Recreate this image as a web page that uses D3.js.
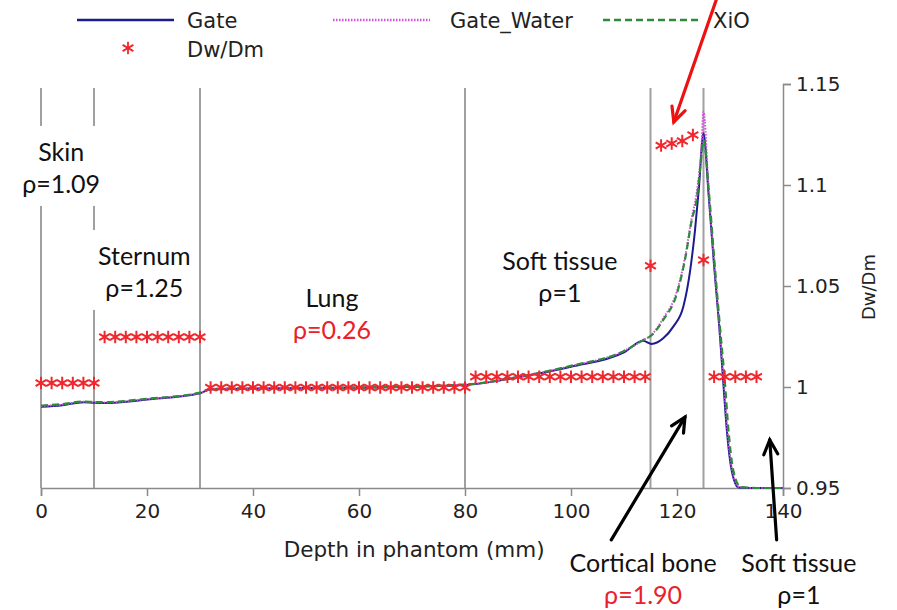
<!DOCTYPE html>
<html>
<head>
<meta charset="utf-8">
<script src="https://cdn.jsdelivr.net/npm/d3@7"></script>
<style>
  body { margin: 0; background: #fff; }
  svg { display: block; }
</style>
</head>
<body>
<div id="chart"></div>
<script>
// Depth (mm) and Dw/Dm values

// Gate (solid navy)
const gateDepth = [0, 4, 8, 10, 12, 20, 30, 32, 40, 60, 80, 90, 100, 110, 113.6, 115.2, 117.4, 119.3, 121.2, 122.5, 123.4, 124.1, 125, 126, 127, 128, 128.7, 129.4, 130.3, 131.6, 135, 140];
const gateDose  = [0.9902, 0.991, 0.9925, 0.9922, 0.9921, 0.9938, 0.9969, 0.9988, 0.9993, 0.9996, 1.001, 1.0048, 1.010, 1.0172, 1.0229, 1.0213, 1.0241, 1.0299, 1.0398, 1.058, 1.0777, 1.0975, 1.1256, 1.094, 1.060, 1.029, 1.0035, 0.9787, 0.9589, 0.9503, 0.9500, 0.9500];

// Gate_Water (magenta dotted)
const waterDepth = [0, 4, 8, 10, 12, 20, 30, 32, 40, 60, 80, 90, 100, 110, 113.6, 115.2, 117.4, 120, 121.5, 122.8, 123.7, 124.6, 125, 126, 127, 128, 128.8, 129.5, 130.4, 131.7, 135, 140];
const waterDose  = [0.9905, 0.9913, 0.9927, 0.9924, 0.9923, 0.994, 0.9971, 0.999, 0.9995, 0.9998, 1.0012, 1.005, 1.0104, 1.0178, 1.0232, 1.0258, 1.034, 1.0475, 1.064, 1.084, 1.096, 1.118, 1.1363, 1.096, 1.062, 1.030, 1.0035, 0.979, 0.959, 0.9505, 0.9500, 0.9500];

// XiO (green dashed)
const xioDepth = [0, 4, 8, 10, 12, 20, 30, 32, 40, 60, 80, 90, 100, 110, 113.6, 115.2, 117.4, 120, 121.5, 122.8, 123.7, 124.6, 125, 126.1, 127.1, 128.1, 129, 129.7, 130.6, 132, 135, 140];
const xioDose  = [0.9908, 0.9915, 0.9928, 0.9926, 0.9925, 0.9942, 0.9972, 0.999, 0.9995, 0.9998, 1.0012, 1.005, 1.0105, 1.0178, 1.0232, 1.0256, 1.0332, 1.0464, 1.0629, 1.0827, 1.0926, 1.114, 1.1223, 1.094, 1.061, 1.030, 1.0035, 0.979, 0.959, 0.9505, 0.9500, 0.9500];

// Dw/Dm ratio (red asterisks)
const dwDepth = [0, 2, 4, 6, 8, 10,
  12, 14, 16, 18, 20, 22, 24, 26, 28, 30,
  32, 34, 36, 38, 40, 42, 44, 46, 48, 50, 52, 54, 56, 58, 60, 62, 64, 66, 68, 70, 72, 74, 76, 78, 80,
  82, 84, 86, 88, 90, 92, 94, 96, 98, 100, 102, 104, 106, 108, 110, 112, 114,
  115, 117, 119, 121, 123, 125,
  127, 129, 131, 133, 135];
const dwRatio = [1.002, 1.002, 1.002, 1.002, 1.002, 1.002,
  1.0248, 1.0248, 1.0248, 1.0248, 1.0248, 1.0248, 1.0248, 1.0248, 1.0248, 1.0248,
  0.9998, 0.9998, 0.9998, 0.9998, 0.9998, 0.9998, 0.9998, 0.9998, 0.9998, 0.9998, 0.9998, 0.9998, 0.9998, 0.9998, 0.9998, 0.9998, 0.9998, 0.9998, 0.9998, 0.9998, 0.9998, 0.9998, 0.9998, 0.9998, 0.9998,
  1.0051, 1.0051, 1.0051, 1.0051, 1.0051, 1.0051, 1.0051, 1.0051, 1.0051, 1.0051, 1.0051, 1.0051, 1.0051, 1.0051, 1.0051, 1.0051, 1.0051,
  1.0600, 1.1195, 1.1206, 1.1218, 1.1248, 1.0629,
  1.0051, 1.0051, 1.0051, 1.0051, 1.0051];

// Tissue boundaries (mm)
const boundaries = [0, 10, 30, 80, 115, 125];

// Axis ticks
const xTicks = [0, 20, 40, 60, 80, 100, 120, 140];
const yTicks = [0.95, 1, 1.05, 1.1, 1.15];
const yTickLabels = ["0.95", "1", "1.05", "1.1", "1.15"];

// Region labels: [depth, value, name, density, density colour]
const regionLabels = [
  [3.8, 1.1119, "Skin", "ρ=1.09", "#111"],
  [19.5, 1.0604, "Sternum", "ρ=1.25", "#111"],
  [54.9, 1.0396, "Lung", "ρ=0.26", "#e8212a"],
  [97.9, 1.0579, "Soft tissue", "ρ=1", "#111"],
  [113.6, 0.9084, "Cortical bone", "ρ=1.90", "#e8212a"],
  [143.0, 0.9084, "Soft tissue", "ρ=1", "#111"]
];

// Arrows: [fromDepth, fromValue, toDepth, toValue, colour]
const arrows = [
  [127.4, 1.1916, 119.4, 1.1312, "#ee1111"],
  [107.6, 0.9243, 121.5, 0.9851, "#000"],
  [138.8, 0.9243, 137.5, 0.9738, "#000"]
];

const W = 897, H = 610;
const svg = d3.select("#chart").append("svg")
  .attr("width", W).attr("height", H)
  .style("font-family", "'DejaVu Sans', sans-serif");

const x = d3.scaleLinear().domain([0, 140]).range([41, 783]);
const y = d3.scaleLinear().domain([0.95, 1.15]).range([488, 84]);

const axisColor = "#8a8a8a";

// Vertical boundary lines
svg.append("g").selectAll("line")
  .data(boundaries)
  .join("line")
  .attr("x1", d => x(d)).attr("x2", d => x(d))
  .attr("y1", y(1.148)).attr("y2", y(0.95))
  .attr("stroke", "#a0a0a0")
  .attr("stroke-width", 2);

// Region labels with white boxes that break the boundary lines
const labelG = svg.append("g").style("font-family", "Lato, 'Open Sans', sans-serif").style("font-size", "25px");
for (let lab of regionLabels) {
  let g = labelG.append("g");
  let t1 = g.append("text")
    .attr("x", x(lab[0])).attr("y", y(lab[1]))
    .attr("text-anchor", "middle")
    .attr("fill", "#111")
    .text(lab[2]);
  let t2 = g.append("text")
    .attr("x", x(lab[0])).attr("y", y(lab[1]) + 32)
    .attr("text-anchor", "middle")
    .attr("fill", lab[4])
    .text(lab[3]);
  let b1 = t1.node().getBBox(), b2 = t2.node().getBBox();
  let x0 = Math.min(b1.x, b2.x) - 8, x1 = Math.max(b1.x + b1.width, b2.x + b2.width) + 8;
  let y0 = b1.y - 10, y1 = b2.y + b2.height + 8;
  g.insert("rect", "text")
    .attr("x", x0).attr("y", y0)
    .attr("width", x1 - x0).attr("height", y1 - y0)
    .attr("fill", "#fff");
}

// X axis
const xAxis = d3.axisBottom(x).tickValues(xTicks).tickSize(8).tickPadding(8);
const gx = svg.append("g").attr("transform", "translate(0," + y(0.95) + ")").call(xAxis);
gx.select(".domain").attr("stroke", axisColor).attr("stroke-width", 1.5);
gx.selectAll(".tick line").attr("stroke", axisColor).attr("stroke-width", 1.5);
gx.selectAll(".tick text").style("font-size", "20px").attr("fill", "#222")
  .style("font-family", "'DejaVu Sans', sans-serif");

// Y axis on the right
const yAxis = d3.axisRight(y).tickValues(yTicks).tickSize(8).tickPadding(5)
  .tickFormat((d, i) => yTickLabels[i]);
const gy = svg.append("g").attr("transform", "translate(" + x(140) + ",0)").call(yAxis);
gy.select(".domain").attr("stroke", axisColor).attr("stroke-width", 1.5);
gy.selectAll(".tick line").attr("stroke", axisColor).attr("stroke-width", 1.5);
gy.selectAll(".tick text").style("font-size", "20px").attr("fill", "#222")
  .style("font-family", "'DejaVu Sans', sans-serif");

// Axis titles
svg.append("text")
  .attr("x", x(70.4)).attr("y", 557)
  .attr("text-anchor", "middle")
  .style("font-size", "21.5px").attr("fill", "#222")
  .text("Depth in phantom (mm)");
svg.append("text")
  .attr("transform", "translate(875," + y(1.0495) + ") rotate(-90)")
  .attr("text-anchor", "middle")
  .style("font-size", "18px").attr("fill", "#222")
  .text("Dw/Dm");

// Curves
const line = d3.line()
  .x(d => x(d[0]))
  .y(d => y(d[1]))
  .curve(d3.curveMonotoneX);

const series = [
  {name: "Gate", depth: gateDepth, dose: gateDose, color: "#1c1c8f", dash: null, width: 2},
  {name: "Gate_Water", depth: waterDepth, dose: waterDose, color: "#d64ee0", dash: "1.5,1.5", width: 2},
  {name: "XiO", depth: xioDepth, dose: xioDose, color: "#2f8a3a", dash: "7,4", width: 2.2}
];

for (let s of series) {
  let pts = s.depth.map((d, i) => [d, s.dose[i]]);
  svg.append("path")
    .datum(pts)
    .attr("fill", "none")
    .attr("stroke", s.color)
    .attr("stroke-width", s.width)
    .attr("stroke-dasharray", s.dash)
    .attr("d", line);
}

// Dw/Dm asterisks
const star = d3.symbol().type(d3.symbolAsterisk).size(110);
svg.append("g").selectAll("path")
  .data(dwDepth.map((d, i) => [d, dwRatio[i]]))
  .join("path")
  .attr("transform", d => "translate(" + x(d[0]) + "," + y(d[1]) + ")")
  .attr("d", star)
  .attr("fill", "none")
  .attr("stroke", "#f0282d")
  .attr("stroke-width", 2);

// Arrows with open heads
for (let a of arrows) {
  let x1 = x(a[0]), y1 = y(a[1]), x2 = x(a[2]), y2 = y(a[3]);
  let ang = Math.atan2(y2 - y1, x2 - x1);
  let len = 16, spread = 0.45;
  let g = svg.append("g").attr("stroke", a[4]).attr("stroke-width", 3.2)
    .attr("stroke-linecap", "round").attr("fill", "none");
  g.append("line").attr("x1", x1).attr("y1", y1).attr("x2", x2).attr("y2", y2);
  g.append("polyline").attr("points", [
    [x2 - len * Math.cos(ang - spread), y2 - len * Math.sin(ang - spread)],
    [x2, y2],
    [x2 - len * Math.cos(ang + spread), y2 - len * Math.sin(ang + spread)]
  ].map(p => p.join(",")).join(" "));
}

// Legend
const legendItems = [
  {label: "Gate", lx: 77, ly: 20, tx: 187, color: "#1c1c8f", dash: null},
  {label: "Gate_Water", lx: 333, ly: 20, tx: 450, color: "#d64ee0", dash: "1.5,1.5"},
  {label: "XiO", lx: 603, ly: 20, tx: 713, color: "#2f8a3a", dash: "7,4"}
];
const legend = svg.append("g");
for (let it of legendItems) {
  legend.append("line")
    .attr("x1", it.lx).attr("x2", it.lx + 97)
    .attr("y1", it.ly).attr("y2", it.ly)
    .attr("stroke", it.color).attr("stroke-width", 2.5)
    .attr("stroke-dasharray", it.dash);
  legend.append("text")
    .attr("x", it.tx).attr("y", it.ly + 8)
    .style("font-size", "21px").attr("fill", "#222")
    .text(it.label);
}
legend.append("path")
  .attr("transform", "translate(128,48)")
  .attr("d", star)
  .attr("fill", "none")
  .attr("stroke", "#f0282d")
  .attr("stroke-width", 1.8);
legend.append("text")
  .attr("x", 187).attr("y", 57)
  .style("font-size", "21px").attr("fill", "#222")
  .text("Dw/Dm");
</script>
</body>
</html>
